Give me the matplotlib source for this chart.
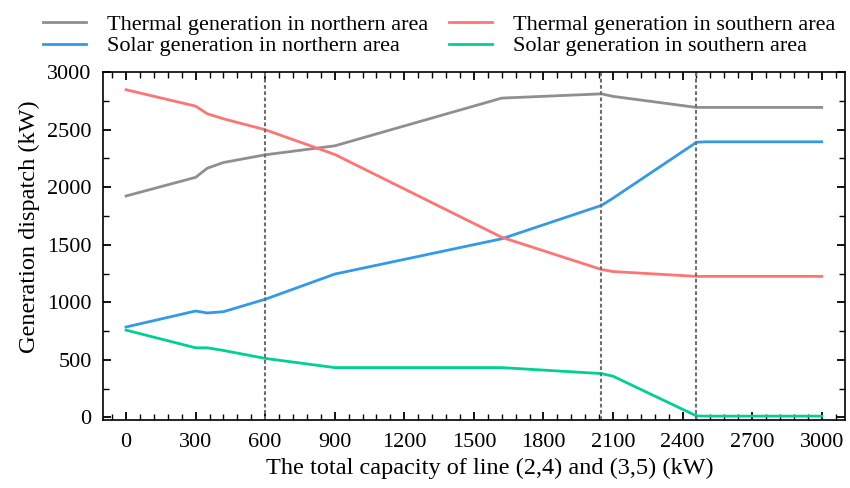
import numpy as np
import matplotlib
matplotlib.use('Agg')
import matplotlib.pyplot as plt
from matplotlib.ticker import MultipleLocator

plt.rcParams['font.family'] = ['Liberation Serif', 'DejaVu Serif']
plt.rcParams['mathtext.fontset'] = 'stix'

# line capacity (kW) and dispatch (kW)
cap = [0, 300, 350, 420, 600, 900, 1620, 2050, 2100, 2460, 2500, 3000]
thermal_north = [1924, 2086, 2165, 2215, 2282, 2360, 2775, 2812, 2790, 2694, 2694, 2694]
solar_north = [785, 924, 907, 918, 1026, 1245, 1552, 1842, 1905, 2391, 2395, 2395]
thermal_south = [2848, 2705, 2639, 2595, 2500, 2285, 1565, 1285, 1267, 1225, 1225, 1225]
solar_south = [758, 604, 604, 581, 512, 432, 432, 380, 357, 12, 10, 10]
vlines = [600, 2050, 2460]

fig = plt.figure(figsize=(8.5, 4.88), dpi=100)
ax = fig.add_axes([0.121, 0.139, 0.873, 0.713])

lw = 2.0
ax.plot(cap, thermal_north, color='#8f8f8f', lw=lw, label='Thermal generation in northern area')
ax.plot(cap, solar_north, color='#3399ea', lw=lw, label='Solar generation in northern area')
ax.plot(cap, thermal_south, color='#ff7474', lw=lw, label='Thermal generation in southern area')
ax.plot(cap, solar_south, color='#00d095', lw=lw, label='Solar generation in southern area')

for v in vlines:
    ax.axvline(v, color='#6e6e6e', ls=(0, (1.8, 1.2)), lw=1.5)

ax.set_xlim(-100, 3100)
ax.set_ylim(-25, 3000)
ax.xaxis.set_major_locator(MultipleLocator(300))
ax.xaxis.set_minor_locator(MultipleLocator(60))
ax.yaxis.set_major_locator(MultipleLocator(500))
ax.yaxis.set_minor_locator(MultipleLocator(250))
ax.tick_params(which='both', direction='in', top=True, right=True, labelsize=16)
ax.tick_params(which='major', length=6, width=1.3)
ax.tick_params(axis='x', which='major', pad=9)
ax.tick_params(axis='y', which='major', pad=8)
ax.tick_params(which='minor', length=4, width=1.0)
for s in ax.spines.values():
    s.set_linewidth(1.2)

ax.set_xlabel('The total capacity of line (2,4) and (3,5) (kW)', fontsize=17.5)
ax.set_ylabel('Generation dispatch (kW)', fontsize=17.5)
ax.xaxis.set_label_coords(0.5216, -0.107)
ax.yaxis.set_label_coords(-0.085, 0.555)

fig.legend(loc='upper left', bbox_to_anchor=(0.027, 1.012), ncol=2, frameon=False,
           fontsize=16, handlelength=1.95, handletextpad=0.95, columnspacing=0.9,
           labelspacing=0.05)

fig.savefig('out.png', dpi=100)
